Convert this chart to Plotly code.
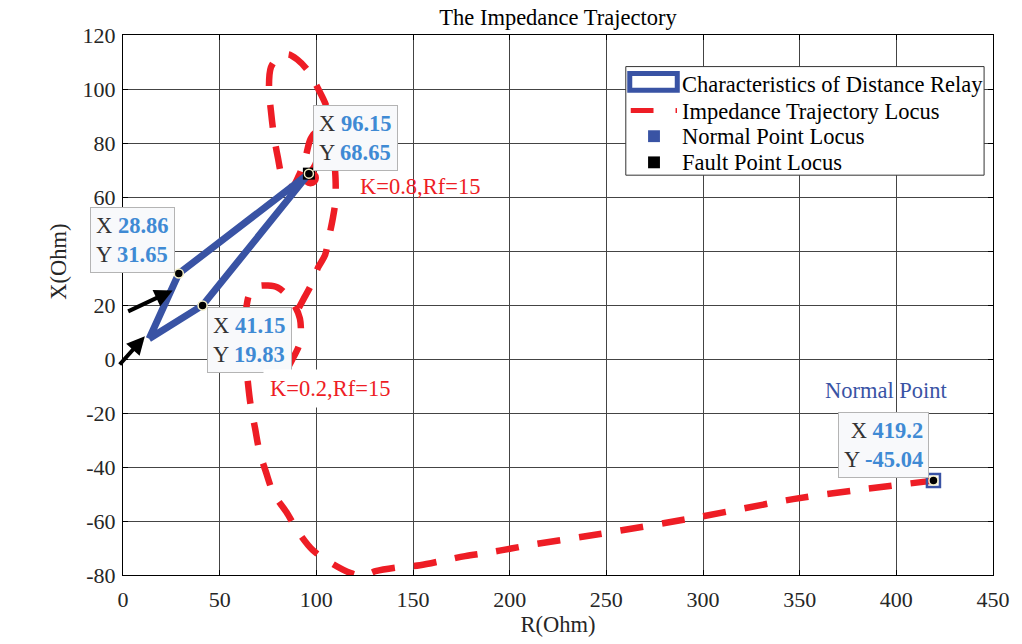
import plotly.graph_objects as go

# ---------------- data ----------------
# Impedance trajectory locus (R, X) in Ohm; None separates the two drawn branches
traj_r = [419.2, 380, 346.6, 298, 244.2, 212, 200.7, 189, 177, 166, 153.6, 141.8, 130.6, 124, 117.8, 108,
          98.3, 90.6, 84.5, 78, 74, 70.5, 68.3, 66, 64.5, 63.5, 63.5, 64, 66, 70, 75, 80, 85, 89, 91.5,
          92, 91, 88, 85.5, None,
          91, 94, 97, 101, 104.5, 106.5, 108.5, 109.8, 110, 109.5, 108.5, 107, 105, 101, 96, 90, 85.5,
          80, 76.5, 75.5, 76.5, 78, 80, 83, 87, 91, 94.5, 97, 100, 101.5, 99.5, 96.15]
traj_x = [-45.04, -48.5, -51.9, -58.5, -65.1, -68.7, -70.2, -71.7, -73, -74.6, -76.4, -77.2, -78.6, -80.3, -79.3, -75.7,
          -70.9, -64, -56.7, -50, -42, -34, -25.6, -17, -8, 0, 10, 20, 25, 27, 27.2, 26.5, 23.5, 19.5, 15,
          10, 5, 0.4, -3, None,
          19, 23, 27, 34, 38.5, 45, 52, 58, 65, 72, 80, 88, 94, 100, 106.5, 111, 112.8,
          111.5, 108, 100, 92, 83, 75, 66, 63.5, 68, 75, 81.5, 84, 79, 72, 68.65]

# Characteristics of distance relay (quadrilateral)
relay_r = [13.5, 28.86, 96.15, 41.15, 13.5]
relay_x = [7.5, 31.65, 68.65, 19.83, 7.5]

# Normal and fault points
normal_r = [419.2]
normal_x = [-45.04]
fault_r = [96.15]
fault_x = [68.65]
fault_end_r = [97.0]
fault_end_x = [67.0]

# Data tips (R, X)
tip_r = [96.15, 28.86, 41.15, 419.2]
tip_x = [68.65, 31.65, 19.83, -45.04]
tip_r_txt = ["96.15", "28.86", "41.15", "419.2"]
tip_x_txt = ["68.65", "31.65", "19.83", "-45.04"]

# Case labels
case_labels = ["K=0.8,Rf=15", "K=0.2,Rf=15", "K=0.8,Rf=5", "K=0.2,Rf=5"]
case_r = [153.4, 106.9, -30.2, -31.0]
case_x = [63.9, -11.1, 13.0, -8.9]

# Arrows (tail -> head)
arrow_tail_r = [1.9, -2.4]
arrow_tail_x = [17.4, -2.6]
arrow_head_r = [25.7, 11.3]
arrow_head_x = [25.4, 8.4]

legend_names = ["Characteristics of Distance Relay", "Impedance Trajectory Locus",
                "Normal Point Locus", "Fault Point Locus"]

x_ticks = list(range(0, 451, 50))
y_ticks = list(range(-80, 121, 20))

# ---------------- style ----------------
FONT = "Liberation Serif"
FS = 22.5
RED = "#ee1d25"
BLUE = "#3953a4"
TIPBLUE = "#3f8ad4"
GRID = "#444444"
TXT = "#262626"

W, H = 1022, 644
ML, MR, MT, MB = 123, 20, 35, 62
PW, PH = W - ML - MR, H - MT - MB


def px(x):
    return (x - ML) / PW


def py(y):
    return (H - MB - y) / PH


fig = go.Figure()

fig.add_trace(go.Scatter(x=traj_r, y=traj_x, mode="lines", connectgaps=False,
                         line=dict(color=RED, width=6.5, dash="23px,19px", shape="spline", smoothing=0.9),
                         name=legend_names[1], showlegend=False, hoverinfo="skip"))
fig.add_trace(go.Scatter(x=fault_end_r, y=fault_end_x, mode="markers",
                         marker=dict(color=RED, size=17), showlegend=False, hoverinfo="skip"))
fig.add_trace(go.Scatter(x=relay_r, y=relay_x, mode="lines",
                         line=dict(color=BLUE, width=7), name=legend_names[0], showlegend=False))
fig.add_trace(go.Scatter(x=fault_r, y=fault_x, mode="markers",
                         marker=dict(color="black", size=12, symbol="square"),
                         name=legend_names[3], showlegend=False))
fig.add_trace(go.Scatter(x=normal_r, y=normal_x, mode="markers",
                         marker=dict(color=BLUE, size=13, symbol="square-open", line=dict(width=2.5, color=BLUE)),
                         name=legend_names[2], showlegend=False))
fig.add_trace(go.Scatter(x=tip_r, y=tip_x, mode="markers",
                         marker=dict(color="black", size=9, line=dict(color="#f4efc6", width=1.5)),
                         showlegend=False))

annotations = []
# data tip boxes
tip_shift = [(47, 36, "left"), (-46, 34, "left"), (47, -35, "left"), (-50, 36, "right")]
for r, xv, rt, xt, (sx, sy, al) in zip(tip_r, tip_x, tip_r_txt, tip_x_txt, tip_shift):
    annotations.append(dict(
        x=r, y=xv, xref="x", yref="y", showarrow=False, xshift=sx, yshift=sy,
        xanchor="center", yanchor="middle", align=al,
        text=(f"X <b><span style='color:{TIPBLUE}'>{rt}</span></b><br>"
              f"Y <b><span style='color:{TIPBLUE}'>{xt}</span></b>"),
        font=dict(family=FONT, size=FS, color="#333333"),
        bgcolor="#f8f9fb", bordercolor="#b4b4b4", borderwidth=1, borderpad=5))

# case labels
for i, (t, r, xv) in enumerate(zip(case_labels, case_r, case_x)):
    annotations.append(dict(x=r, y=xv, xref="x", yref="y", text=t, showarrow=False,
                            xanchor="center", yanchor="middle",
                            font=dict(family=FONT, size=FS, color=RED),
                            bgcolor="white" if i == 1 else "rgba(0,0,0,0)", borderpad=6))

annotations.append(dict(x=394.8, y=-11.7, xref="x", yref="y", text="Normal Point", showarrow=False,
                        xanchor="center", yanchor="middle",
                        font=dict(family=FONT, size=FS, color=BLUE)))

# arrows
for tr, tx, hr, hx in zip(arrow_tail_r, arrow_tail_x, arrow_head_r, arrow_head_x):
    annotations.append(dict(x=hr, y=hx, ax=tr, ay=tx, xref="x", yref="y", axref="x", ayref="y",
                            text="", showarrow=True, arrowhead=2, arrowsize=0.9, arrowwidth=4,
                            arrowcolor="black", standoff=0, startstandoff=0))

# y axis title
annotations.append(dict(x=px(57), y=py(265), xref="paper", yref="paper", text="X(Ohm)", textangle=-90,
                        xanchor="center", yanchor="middle",
                        showarrow=False, font=dict(family=FONT, size=FS, color=TXT)))

# manual legend
leg_y = [85, 112, 138, 164]
for name, yy in zip(legend_names, leg_y):
    annotations.append(dict(x=px(686), y=py(yy), xref="paper", yref="paper", text=name, showarrow=False,
                            xanchor="left", yanchor="middle", font=dict(family=FONT, size=FS, color="black")))

shapes = [
    dict(type="rect", xref="paper", yref="paper", x0=px(631), x1=px(993), y0=py(177), y1=py(67),
         line=dict(color="#333333", width=1), fillcolor="white", layer="above"),
    dict(type="rect", xref="paper", yref="paper", x0=px(635), x1=px(683), y0=py(91), y1=py(74),
         line=dict(color=BLUE, width=5), fillcolor="white", layer="above"),
    dict(type="line", xref="paper", yref="paper", x0=px(636), x1=px(659), y0=py(111.5), y1=py(111.5),
         line=dict(color=RED, width=5), layer="above"),
    dict(type="line", xref="paper", yref="paper", x0=px(682), x1=px(682), y0=py(114), y1=py(109),
         line=dict(color=RED, width=1.5), layer="above"),
    dict(type="rect", xref="paper", yref="paper", x0=px(653.5), x1=px(665.5), y0=py(143.5), y1=py(131.5),
         line=dict(color=BLUE, width=0), fillcolor=BLUE, layer="above"),
    dict(type="rect", xref="paper", yref="paper", x0=px(653.5), x1=px(665.5), y0=py(170), y1=py(158),
         line=dict(color="black", width=0), fillcolor="black", layer="above"),
]

axis_common = dict(showgrid=True, gridcolor=GRID, gridwidth=1, showline=True, linecolor="black",
                   linewidth=1, mirror="ticks", ticks="inside", ticklen=5, tickcolor="black",
                   zeroline=False, tickfont=dict(family=FONT, size=22, color=TXT))

fig.update_layout(
    width=W, height=H,
    margin=dict(l=ML, r=MR, t=MT, b=MB, pad=0),
    paper_bgcolor="white", plot_bgcolor="white",
    showlegend=False,
    title=dict(text="The Impedance Trajectory", x=0.5, xref="paper", xanchor="center",
               y=(H - 17) / H, yanchor="middle", font=dict(family=FONT, size=FS, color="black")),
    xaxis=dict(range=[0, 450], tickvals=x_ticks, ticktext=[str(v) for v in x_ticks],
               ticklabelstandoff=5, **axis_common,
               title=dict(text="R(Ohm)", font=dict(family=FONT, size=FS, color=TXT), standoff=4)),
    yaxis=dict(range=[-80, 120], tickvals=y_ticks, ticktext=[str(v) for v in y_ticks],
               ticklabelstandoff=2, **axis_common),
    annotations=annotations,
    shapes=shapes,
)

fig.write_html("out.html")
